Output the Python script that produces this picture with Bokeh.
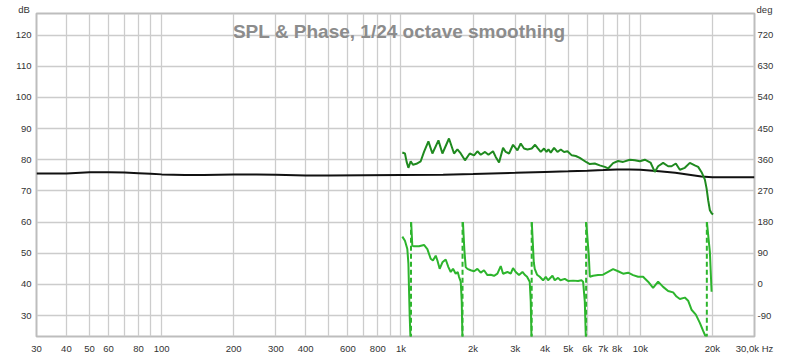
import math
from bokeh.plotting import figure
from bokeh.models import (Range1d, LinearAxis, FixedTicker, Label)
from bokeh.embed import file_html
from bokeh.resources import INLINE

# ---------------- data ----------------
x_ticks = [30, 40, 50, 60, 80, 100, 200, 300, 400, 600, 800, 1000, 2000, 3000,
           4000, 5000, 6000, 7000, 8000, 10000, 20000, 30000]
x_tick_labels = ["30", "40", "50", "60", "80", "100", "200", "300", "400", "600",
                 "800", "1k", "2k", "3k", "4k", "5k", "6k", "7k", "8k", "10k",
                 "20k", "30,0k Hz"]
x_minor_grid = [70, 90, 500, 700, 900, 9000]
db_ticks = [30, 40, 50, 60, 70, 80, 90, 100, 110, 120]
deg_ticks = [-90, 0, 90, 180, 270, 360, 450, 540, 630, 720]
deg_tick_labels = ["-90", "0", "90", "180", "270", "360", "450", "540", "630", "720"]

# black SPL trace (dB)
ref_freq = [30, 40, 50, 60, 70, 80, 90, 100, 125, 150, 200, 250, 300, 400, 500,
            700, 1000, 1500, 2000, 3000, 4000, 5000, 6000, 7000, 8000, 9000,
            10000, 12000, 14000, 16000, 18000, 20000, 25000, 30000]
ref_db = [75.6, 75.6, 76.0, 76.0, 75.9, 75.7, 75.5, 75.3, 75.1, 75.1, 75.3, 75.3,
          75.2, 74.9, 74.9, 75.0, 75.1, 75.2, 75.4, 75.8, 76.1, 76.3, 76.5, 76.7,
          76.9, 76.9, 76.8, 76.3, 75.8, 75.2, 74.6, 74.4, 74.4, 74.4]

# dark green SPL trace (dB)
spl_freq = [1013, 1039, 1056, 1074, 1098, 1122, 1160, 1209, 1248, 1302, 1353, 1434,
            1490, 1587, 1666, 1721, 1777, 1851, 1938, 2020, 2086, 2154, 2245, 2320,
            2424, 2488, 2569, 2670, 2740, 2828, 2939, 3066, 3165, 3267, 3376, 3519,
            3634, 3718, 3837, 3961, 4054, 4133, 4225, 4362, 4507, 4652, 4802, 4962,
            5172, 5375, 5586, 5958, 6151, 6453, 6770, 7106, 7335, 7697, 8075, 8475,
            9040, 9485, 9952, 10443, 11031, 11498, 11869, 12454, 13070, 13504,
            14075, 14630, 15346, 16104, 16896, 17446, 18030, 18612, 18918, 19213,
            19530, 19855, 20160]
spl_db = [82.3, 82.0, 79.3, 77.4, 79.5, 78.4, 78.7, 79.5, 82.5, 85.9, 82.0, 86.2,
          82.0, 86.8, 82.0, 83.3, 82.0, 79.8, 82.0, 81.4, 82.7, 81.6, 82.5, 81.6,
          82.7, 80.9, 79.1, 83.8, 82.5, 82.0, 84.8, 83.0, 85.2, 83.6, 83.3, 83.6,
          84.8, 83.8, 82.5, 83.6, 82.5, 83.3, 82.3, 83.8, 82.5, 83.3, 82.5, 82.7,
          81.4, 81.2, 80.6, 79.2, 78.6, 78.8, 78.2, 77.7, 77.2, 78.9, 79.6, 79.3,
          80.0, 79.8, 79.5, 80.0, 79.1, 76.1, 77.9, 79.0, 77.9, 77.9,
          78.8, 76.8, 77.4, 79.0, 78.2, 77.7, 76.0, 73.6, 70.8, 67.0,
          63.8, 62.8, 62.5]

# light green phase trace (deg, wrapped)
phase_freq = [1013, 1039, 1063, 1074, 1080, 1087, 1095, 1100,
              1103, 1115, 1133, 1189, 1248, 1289, 1331, 1360, 1397, 1420, 1451,
              1490, 1538, 1578, 1614, 1650, 1693, 1726, 1748, 1777, 1794, 1806, 1810,
              1815, 1840, 1864, 1895, 1956, 2020, 2086, 2154, 2223, 2297, 2371,
              2448, 2529, 2611, 2670, 2786, 2875, 2939, 3016, 3113, 3218, 3299,
              3363, 3451, 3485, 3509, 3515,
              3520, 3588, 3622, 3703, 3800, 3924, 4027, 4117, 4295, 4391, 4533,
              4639, 4835, 4991, 5237, 5495, 5678, 5767, 5862, 5919, 5935,
              5940, 6093, 6151, 6350, 6662, 6989, 7335, 7697, 8075, 8475, 8895,
              9331, 9790, 10273, 10443, 10779, 11309, 11869, 12454, 13070, 13716,
              14168, 14630, 15346, 15843, 16368, 17061, 17731, 18305, 18735, 18950,
              18980, 19530, 19855]
phase_deg = [138, 126, 102, 60, -10, -87, -150, -180,
             180, 112, 110, 110, 114, 102, 74, 69, 83, 69, 45,
             64, 72, 50, 36, 45, 31, 36, 22, 8, -49, -150, -180,
             180, 100, 50, 45, 41, 38, 45, 34, 41, 27, 28,
             25, 31, 53, 31, 36, 31, 47, 36, 27, 36, 27,
             22, 8, -49, -150, -180,
             180, 64, 45, 28, 22, 12, 22, 12, 25, 12, 19,
             12, 16, 10, 11, 10, 12, 8, -49, -150, -180,
             180, 83, 22, 25, 27, 28, 36, 44, 38, 31, 34,
             27, 22, 22, 17, 8, -10, 8, -7, -19, -23,
             -35, -42, -38, -47, -73, -87, -111, -134, -150, -180,
             180, 93, -21]
wrap_freq = [1101, 1808, 3517, 5937, 18965]

# ---------------- figure ----------------
p = figure(width=800, height=356, x_axis_type="log",
           x_range=Range1d(30, 30000), y_range=Range1d(23.3, 126.9),
           output_backend="svg", toolbar_location=None,
           min_border_left=36, min_border_right=46, min_border_top=13,
           min_border_bottom=19)
p.extra_y_ranges = {"deg": Range1d(-150.3, 782.1)}
p.background_fill_color = "white"
p.border_fill_color = "white"
p.outline_line_color = "#bdbdbd"
p.outline_line_width = 2

font = "Liberation Sans"
label_color = "#333333"

xt = FixedTicker(ticks=x_ticks, minor_ticks=x_minor_grid)
p.xaxis.ticker = xt
p.xaxis.major_label_overrides = {t: s for t, s in zip(x_ticks, x_tick_labels)}
p.yaxis.ticker = FixedTicker(ticks=db_ticks)

right = LinearAxis(y_range_name="deg", ticker=FixedTicker(ticks=deg_ticks))
right.major_label_overrides = {t: s for t, s in zip(deg_ticks, deg_tick_labels)}
p.add_layout(right, "right")

for ax in p.axis:
    ax.axis_line_color = None
    ax.major_tick_line_color = None
    ax.minor_tick_line_color = None
    ax.major_tick_out = 0
    ax.major_tick_in = 0
    ax.major_label_text_font = font
    ax.major_label_text_font_size = "9.5px"
    ax.major_label_text_color = label_color
p.xaxis.major_label_standoff = 2
p.yaxis[0].major_label_standoff = 5
right.major_label_standoff = 3

p.xgrid.grid_line_color = "#cccccc"
p.xgrid.grid_line_width = 1.3
p.xgrid.minor_grid_line_color = "#cccccc"
p.xgrid.minor_grid_line_width = 1.3
p.ygrid.grid_line_color = "#cccccc"
p.ygrid.grid_line_width = 1.3

# traces
p.line(ref_freq, ref_db, line_color="#111111", line_width=2)
p.line(spl_freq, spl_db, line_color="#1f8a1f", line_width=2)

pf, pd = [], []
for i, (f, d) in enumerate(zip(phase_freq, phase_deg)):
    if i > 0 and phase_deg[i - 1] == -180 and d == 180:
        pf.append(float("nan"))
        pd.append(float("nan"))
    pf.append(f)
    pd.append(d)
p.line(pf, pd, line_color="#2db52d", line_width=2, y_range_name="deg")
p.segment(x0=wrap_freq, y0=[-180] * len(wrap_freq), x1=wrap_freq,
          y1=[180] * len(wrap_freq), line_color="#2db52d", line_width=2,
          line_dash="5 3", y_range_name="deg")

# texts
p.add_layout(Label(x=983, y=121.2, text="SPL & Phase, 1/24 octave smoothing",
                   text_align="center", text_baseline="alphabetic",
                   text_font=font, text_font_style="bold",
                   text_font_size="19px", text_color="#8c8c8c"))
p.add_layout(Label(x=26.6, y=128.2, text="dB", text_align="center",
                   text_baseline="alphabetic", text_font=font,
                   text_font_size="9.5px", text_color=label_color), "left")
p.add_layout(Label(x=33030, y=128.2, text="deg", text_align="center",
                   text_baseline="alphabetic", text_font=font,
                   text_font_size="9.5px", text_color=label_color), "right")

open("out.html", "w").write(file_html(p, INLINE))
